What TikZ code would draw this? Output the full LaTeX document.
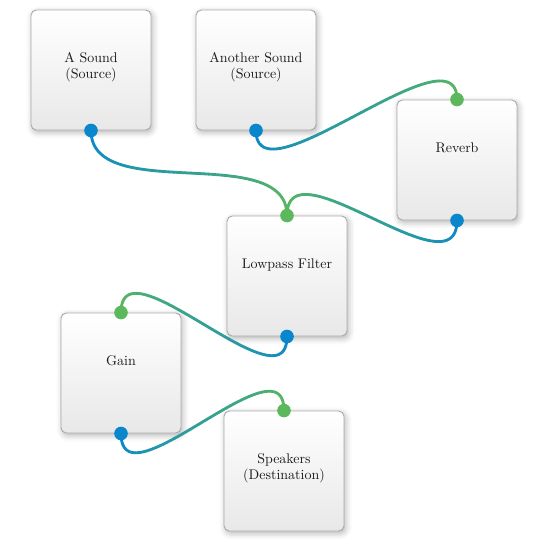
\documentclass[tikz,border=0pt]{standalone}
\usetikzlibrary{calc,shadows.blur}

\definecolor{wirestart}{HTML}{0A87CC}
\definecolor{wireend}{HTML}{5CB85C}
\definecolor{boxedge}{HTML}{ABABAB}
\definecolor{boxlow}{HTML}{E8E8E8}
\definecolor{boxtext}{HTML}{1A1A1A}

\pgfdeclarelayer{front}
\pgfsetlayers{main,front}

\tikzset{
  module/.style={draw=boxedge, line width=0.7pt, rounded corners=4pt,
    minimum width=90pt, minimum height=90pt, inner sep=0pt,
    top color=white, bottom color=boxlow,
    blur shadow={shadow xshift=1.2pt, shadow yshift=-1.8pt,
      shadow blur radius=4.5pt, shadow opacity=30}},
  caption/.style={anchor=north, align=center, text=boxtext, inner sep=0pt,
    font=\fontsize{10.5}{12}\selectfont},
  wire/.style={line width=2.1pt, line cap=round},
  port/.style={circle, minimum size=10.2pt, inner sep=0pt},
  outport/.style={port, fill=wirestart},
  inport/.style={port, fill=wireend},
}

% Cubic patch cord between two ports, vertical tangents at both ends,
% coloured from blue at the output to green at the input.
\newcommand\patchcord[2]{%
  \coordinate (w0) at (#1);
  \coordinate (w1) at ($(#1)+(0,75)$);
  \coordinate (w2) at ($(#2)+(0,-75)$);
  \coordinate (w3) at (#2);
  \coordinate (wprev) at (w0);
  \foreach \k in {1,...,60}{%
    \pgfmathsetmacro\tk{\k/60}%
    \pgfmathtruncatemacro\mix{100*(\k-0.5)/60}%
    \coordinate (wa) at ($(w0)!\tk!(w1)$);
    \coordinate (wb) at ($(w1)!\tk!(w2)$);
    \coordinate (wc) at ($(w2)!\tk!(w3)$);
    \coordinate (wd) at ($(wa)!\tk!(wb)$);
    \coordinate (we) at ($(wb)!\tk!(wc)$);
    \coordinate (wcur) at ($(wd)!\tk!(we)$);
    \draw[wire, draw=wireend!\mix!wirestart] (wprev) -- (wcur);
    \coordinate (wprev) at (wcur);
  }%
}

\begin{document}
\begin{tikzpicture}[x=0.75pt, y=-0.75pt]
  \useasboundingbox (0,0) rectangle (552,551);

  % audio modules
  \node[module] (asound)   at (91,70)   {};
  \node[module] (another)  at (256,70)  {};
  \node[module] (reverb)   at (457,160) {};
  \node[module] (lowpass)  at (287,276) {};
  \node[module] (gain)     at (121,373) {};
  \node[module] (speakers) at (284,471) {};

  \node[caption] (asoundtxt)   at ($(asound.north)+(0,42.5)$)   {A Sound\\(Source)};
  \node[caption] (anothertxt)  at ($(another.north)+(0,42.5)$)  {Another Sound\\(Source)};
  \node[caption] (reverbtxt)   at ($(reverb.north)+(0,42.5)$)   {Reverb};
  \node[caption] (lowpasstxt)  at ($(lowpass.north)+(0,42.5)$)  {Lowpass Filter};
  \node[caption] (gaintxt)     at ($(gain.north)+(0,42.5)$)     {Gain};
  \node[caption] (speakerstxt) at ($(speakers.north)+(0,42.5)$) {Speakers\\(Destination)};

  % ports
  \begin{pgfonlayer}{front}
    \node[outport] (asoundout)  at (asound.south)   {};
    \node[outport] (anotherout) at (another.south)  {};
    \node[inport]  (reverbin)   at (reverb.north)   {};
    \node[outport] (reverbout)  at (reverb.south)   {};
    \node[inport]  (lowpassin)  at (lowpass.north)  {};
    \node[outport] (lowpassout) at (lowpass.south)  {};
    \node[inport]  (gainin)     at (gain.north)     {};
    \node[outport] (gainout)    at (gain.south)     {};
    \node[inport]  (speakersin) at (speakers.north) {};
  \end{pgfonlayer}

  % connections
  \patchcord{asoundout}{lowpassin}
  \patchcord{anotherout}{reverbin}
  \patchcord{reverbout}{lowpassin}
  \patchcord{lowpassout}{gainin}
  \patchcord{gainout}{speakersin}
\end{tikzpicture}
\end{document}
